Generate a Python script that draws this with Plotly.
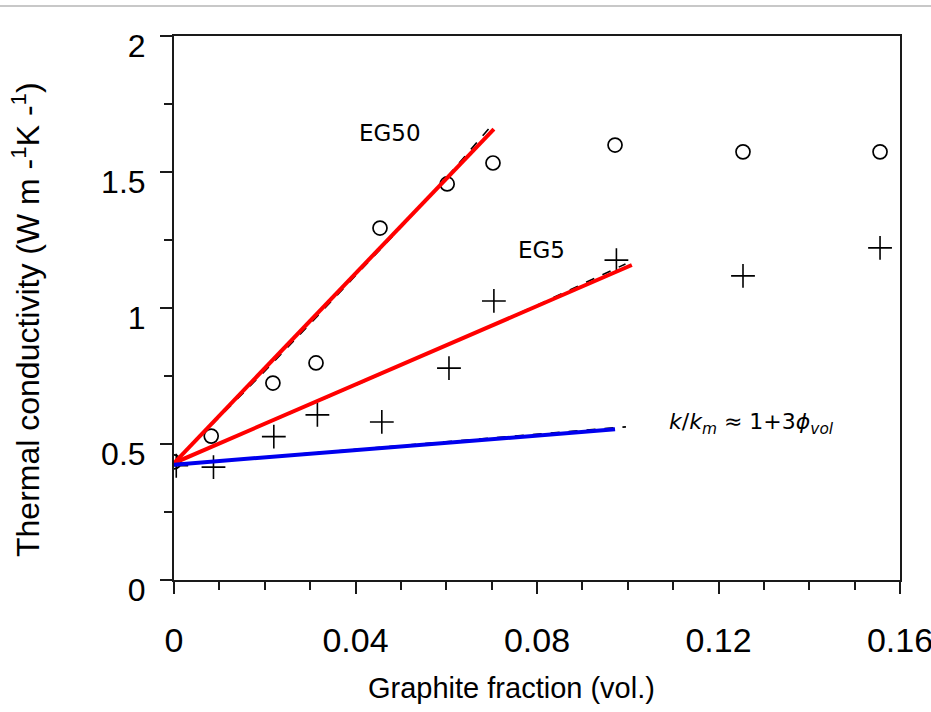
import plotly.graph_objects as go

# ---- data ----
eg50_x = [0.0, 0.0082, 0.0218, 0.0313, 0.0454, 0.0602, 0.0703, 0.0972, 0.1254, 0.1556]
eg50_y = [0.434, 0.529, 0.724, 0.798, 1.294, 1.456, 1.533, 1.599, 1.574, 1.574]

eg5_x = [0.0005, 0.0087, 0.0220, 0.0316, 0.0458, 0.0606, 0.0705, 0.0975, 0.1254, 0.1556]
eg5_y = [0.420, 0.415, 0.527, 0.607, 0.581, 0.779, 1.026, 1.176, 1.118, 1.221]

fit50_x = [0.0, 0.0705]
fit50_y = [0.43, 1.658]
model50_x = [0.0, 0.01, 0.02, 0.03, 0.04, 0.05, 0.06, 0.0695]
model50_y = [0.43, 0.598, 0.768, 0.942, 1.118, 1.296, 1.478, 1.662]

fit5_x = [0.0, 0.1009]
fit5_y = [0.43, 1.158]
model5_x = [0.0, 0.02, 0.04, 0.06, 0.08, 0.0995]
model5_y = [0.43, 0.572, 0.716, 0.862, 1.010, 1.162]

maxwell_x = [0.0, 0.0972]
maxwell_y = [0.424, 0.554]
maxwell_model_x = [0.0, 0.0996]
maxwell_model_y = [0.424, 0.563]

x_ticks = [0, 0.04, 0.08, 0.12, 0.16]
x_ticktext = ["0", "0.04", "0.08", "0.12", "0.16"]
y_ticks = [0, 0.5, 1, 1.5, 2]
y_ticktext = ["0", "0.5", "1", "1.5", "2"]

AX = "#1a1a1a"
SANS = "Liberation Sans, Arial, sans-serif"
DV = "DejaVu Sans, sans-serif"

fig = go.Figure()

fig.add_trace(go.Scatter(x=eg50_x, y=eg50_y, mode="markers", name="EG50",
                         marker=dict(symbol="circle-open", size=14, color="black",
                                     line=dict(width=1.7, color="black"))))
fig.add_trace(go.Scatter(x=eg5_x, y=eg5_y, mode="markers", name="EG5",
                         marker=dict(symbol="cross-thin-open", size=17, color="black",
                                     line=dict(width=1.6, color="black"))))

for mx, my in [(model50_x, model50_y), (model5_x, model5_y), (maxwell_model_x, maxwell_model_y)]:
    fig.add_trace(go.Scatter(x=mx, y=my, mode="lines", line=dict(color="black", width=1.6, dash="dash"),
                             showlegend=False))

fig.add_trace(go.Scatter(x=fit50_x, y=fit50_y, mode="lines", line=dict(color="#ff0000", width=4),
                         showlegend=False))
fig.add_trace(go.Scatter(x=fit5_x, y=fit5_y, mode="lines", line=dict(color="#ff0000", width=4),
                         showlegend=False))
fig.add_trace(go.Scatter(x=maxwell_x, y=maxwell_y, mode="lines", line=dict(color="#0000ee", width=4),
                         showlegend=False))

annots = [
    dict(x=0.0476, y=1.643, text="EG50", showarrow=False, xanchor="center", yanchor="middle",
         font=dict(family=DV, size=23, color="black")),
    dict(x=0.0811, y=1.213, text="EG5", showarrow=False, xanchor="center", yanchor="middle",
         font=dict(family=DV, size=23, color="black")),
    dict(x=0.1087, y=0.577, text="<i>k</i>/<i>k</i><sub><i>m</i></sub> ≈ 1+3<i>ϕ</i><sub><i>vol</i></sub>",
         showarrow=False, xanchor="left", yanchor="middle",
         font=dict(family=DV, size=22, color="black")),
    dict(xref="paper", yref="paper", x=(511 - 174) / 726, y=(580 - 688) / 544,
         text="Graphite fraction (vol.)", showarrow=False, xanchor="center", yanchor="middle",
         font=dict(family=SANS, size=29, color="black")),
    dict(xref="paper", yref="paper", x=(26 - 174) / 726, y=(580 - 320) / 544,
         text="Thermal conductivity (W m -<sup>1</sup>K -<sup>1</sup>)", textangle=-90,
         showarrow=False, xanchor="center", yanchor="middle",
         font=dict(family=SANS, size=32, color="black")),
]

fig.update_layout(
    width=931, height=712,
    margin=dict(l=174, r=31, t=36, b=132, autoexpand=False),
    paper_bgcolor="white", plot_bgcolor="white",
    showlegend=False,
    annotations=annots,
    shapes=[dict(type="line", xref="paper", yref="paper",
                 x0=-174 / 726, x1=(931 - 174) / 726, y0=(580 - 6) / 544, y1=(580 - 6) / 544,
                 line=dict(color="#c8c8c8", width=2))],
)

fig.update_xaxes(
    range=[0, 0.16], tickvals=x_ticks, ticktext=x_ticktext,
    showgrid=False, zeroline=False,
    showline=True, linecolor=AX, linewidth=2, mirror=True,
    ticks="outside", ticklen=12, tickwidth=2, tickcolor=AX,
    minor=dict(dtick=0.01, tick0=0, ticks="outside", ticklen=8, tickwidth=2, tickcolor=AX, showgrid=False),
    tickfont=dict(family=SANS, size=34, color="black"),
    ticklabelstandoff=17, ticklabeloverflow="allow",
)
fig.update_yaxes(
    range=[0, 2], tickvals=y_ticks, ticktext=y_ticktext,
    showgrid=False, zeroline=False,
    showline=True, linecolor=AX, linewidth=2, mirror=True,
    ticks="outside", ticklen=12, tickwidth=2, tickcolor=AX,
    minor=dict(dtick=0.25, tick0=0, ticks="outside", ticklen=8, tickwidth=2, tickcolor=AX, showgrid=False),
    tickfont=dict(family=SANS, size=32, color="black"),
    ticklabelshift=10, ticklabelstandoff=8,
)

fig.write_html("out.html")
